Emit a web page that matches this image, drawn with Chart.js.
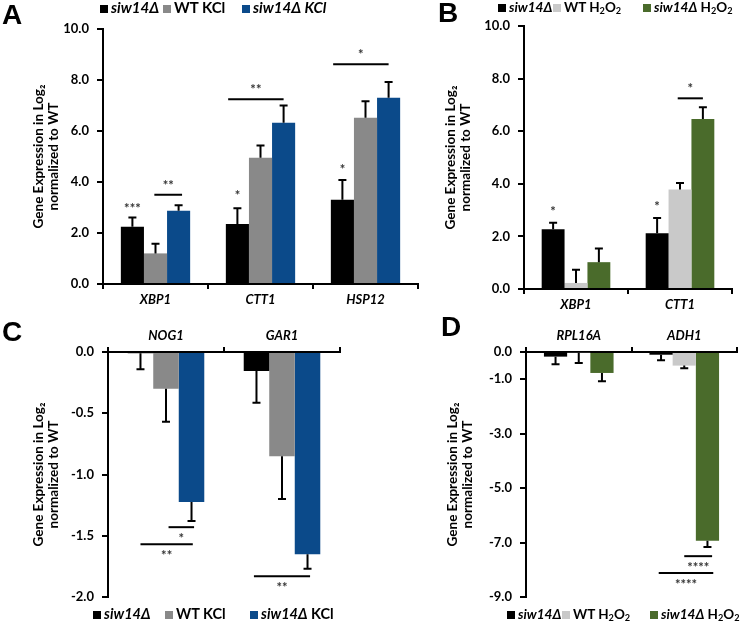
<!DOCTYPE html>
<html>
<head>
<meta charset="utf-8">
<script src="https://cdn.jsdelivr.net/npm/chart.js@4.4.1/dist/chart.umd.min.js"></script>
<style>
  body { margin: 0; background: #fff; }
  #page { position: relative; width: 745px; height: 624px; overflow: hidden; background: #fff; font-family: Lato, 'Open Sans', sans-serif; }
  canvas { position: absolute; }
  .letter { position: absolute; font: bold 28px 'Liberation Sans', Arial, sans-serif; line-height: 1; color: #000; }
  .legend { position: absolute; height: 18px; font-family: Lato, sans-serif; font-weight: bold; line-height: 1; color: #000; white-space: nowrap; }
  .legend .item { position: absolute; top: 0; }
  .legend .sw { display: inline-block; width: 8px; height: 8px; margin-right: 3px; }
  .legend i { font-style: italic; }
  .legend sub { font-size: 0.68em; vertical-align: -2px; }
</style>
</head>
<body>
<div id="page">
  <canvas id="chartA" width="430" height="310" style="left:0;top:0"></canvas>
  <canvas id="chartB" width="375" height="310" style="left:370px;top:0"></canvas>
  <canvas id="chartC" width="370" height="314" style="left:0;top:310px"></canvas>
  <canvas id="chartD" width="375" height="314" style="left:370px;top:310px"></canvas>

  <div class="letter" style="left:2px;top:1px">A</div>
  <div class="letter" style="left:438px;top:-1px">B</div>
  <div class="letter" style="left:2px;top:318px">C</div>
  <div class="letter" style="left:441px;top:313px">D</div>

  <div class="legend" id="legendA" style="left:100px;top:0;font-size:15px"></div>
  <div class="legend" id="legendB" style="left:498px;top:1px;font-size:13.5px"></div>
  <div class="legend" id="legendC" style="left:93px;top:607px;font-size:14.5px"></div>
  <div class="legend" id="legendD" style="left:507px;top:608px;font-size:13.5px"></div>
</div>
<script>
// categories
const kclUpGenes = ['XBP1', 'CTT1', 'HSP12'];
const h2o2UpGenes = ['XBP1', 'CTT1'];
const kclDownGenes = ['NOG1', 'GAR1'];
const h2o2DownGenes = ['RPL16A', 'ADH1'];

// series names
const kclSeries = ['siw14Δ', 'WT KCl', 'siw14Δ KCl'];
const h2o2Series = ['siw14Δ', 'WT H₂O₂', 'siw14Δ H₂O₂'];

// A - KCl, induced genes
const aSiw14 = [2.25, 2.35, 3.3];
const aWtKcl = [1.2, 4.95, 6.52];
const aSiw14Kcl = [2.87, 6.32, 7.3];
const aSiw14Err = [0.36, 0.62, 0.78];
const aWtKclErr = [0.38, 0.48, 0.65];
const aSiw14KclErr = [0.22, 0.68, 0.62];
const aTicks = [0, 2, 4, 6, 8, 10];

// B - H2O2, induced genes
const bSiw14 = [2.27, 2.12];
const bWtH2o2 = [0.23, 3.78];
const bSiw14H2o2 = [1.02, 6.46];
const bSiw14Err = [0.25, 0.58];
const bWtH2o2Err = [0.5, 0.25];
const bSiw14H2o2Err = [0.52, 0.45];
const bTicks = [0, 2, 4, 6, 8, 10];

// C - KCl, repressed genes
const cSiw14 = [-0.01, -0.155];
const cWtKcl = [-0.3, -0.85];
const cSiw14Kcl = [-1.225, -1.65];
const cSiw14Err = [0.13, 0.26];
const cWtKclErr = [0.27, 0.35];
const cSiw14KclErr = [0.155, 0.12];
const cTicks = [0, -0.5, -1, -1.5, -2];

// D - H2O2, repressed genes
const dSiw14 = [-0.17, -0.1];
const dWtH2o2 = [-0.03, -0.5];
const dSiw14H2o2 = [-0.77, -6.93];
const dSiw14Err = [0.28, 0.2];
const dWtH2o2Err = [0.37, 0.1];
const dSiw14H2o2Err = [0.3, 0.23];
const dTicks = [0, -1, -3, -5, -7, -9];

// significance marks (slot = position inside the bar group, in bar widths)
const aStars = [
  { cat: 0, slot: 0.5, y: 3.05, text: '***' },
  { cat: 1, slot: 0.5, y: 3.55, text: '*' },
  { cat: 2, slot: 0.5, y: 4.6, text: '*' }
];
const aLines = [
  { cat: 0, from: 1.45, to: 2.65, y: 3.5, text: '**' },
  { cat: 1, from: 0.1, to: 2.5, y: 7.25, text: '**' },
  { cat: 2, from: 0.1, to: 2.5, y: 8.62, text: '*' }
];
const bStars = [
  { cat: 0, slot: 0.5, y: 3.05, text: '*' },
  { cat: 1, slot: 0.5, y: 3.25, text: '*' }
];
const bLines = [
  { cat: 1, from: 1.4, to: 2.5, y: 7.25, text: '*' }
];
const cLines = [
  { cat: 0, from: 1.6, to: 2.6, y: -1.43, text: '*' },
  { cat: 0, from: 0.5, to: 2.55, y: -1.57, text: '**' },
  { cat: 1, from: 0.4, to: 2.6, y: -1.83, text: '**' }
];
const dLines = [
  { cat: 1, from: 1.5, to: 2.7, y: -7.5, text: '****' },
  { cat: 1, from: 0.4, to: 2.75, y: -8.12, text: '****' }
];

const kclColors = ['#000000', '#898989', '#0b4a8a'];
const h2o2Colors = ['#000000', '#c9c9c9', '#4a6b2b'];
const FONT = 'Lato, sans-serif';

// one-sided error bars, drawn away from zero
const errorBars = {
  id: 'errorBars',
  afterDatasetsDraw(chart) {
    const { ctx } = chart;
    const y = chart.scales.y;
    chart.data.datasets.forEach((ds, i) => {
      chart.getDatasetMeta(i).data.forEach((bar, j) => {
        const v = ds.data[j];
        const end = v < 0 ? v - ds.errors[j] : v + ds.errors[j];
        const y0 = y.getPixelForValue(v), y1 = y.getPixelForValue(end);
        ctx.save();
        ctx.strokeStyle = '#000';
        ctx.lineWidth = 2;
        ctx.beginPath();
        ctx.moveTo(bar.x, y0);
        ctx.lineTo(bar.x, y1);
        ctx.moveTo(bar.x - 4, y1);
        ctx.lineTo(bar.x + 4, y1);
        ctx.stroke();
        ctx.restore();
      });
    });
  }
};

// significance lines and stars
const sigMarks = {
  id: 'sig',
  afterDatasetsDraw(chart, args, opts) {
    const { ctx } = chart;
    const y = chart.scales.y;
    const slotX = (cat, s) => {
      const b = chart.getDatasetMeta(0).data[cat];
      return b.x - b.width / 2 + s * b.width;
    };
    const star = (x, yc, text) => {
      ctx.fillStyle = '#333';
      ctx.font = 'bold 13px ' + FONT;
      ctx.textAlign = 'center';
      ctx.textBaseline = 'alphabetic';
      ctx.fillText(text, x, yc + 7);
    };
    ctx.save();
    (opts.stars || []).forEach(s => star(slotX(s.cat, s.slot), y.getPixelForValue(s.y), s.text));
    (opts.lines || []).forEach(l => {
      const x1 = slotX(l.cat, l.from), x2 = slotX(l.cat, l.to);
      const yp = y.getPixelForValue(l.y);
      ctx.strokeStyle = '#000';
      ctx.lineWidth = 2;
      ctx.beginPath();
      ctx.moveTo(x1, yp);
      ctx.lineTo(x2, yp);
      ctx.stroke();
      star((x1 + x2) / 2, l.y < 0 ? yp + 9 : yp - 12, l.text);
    });
    ctx.restore();
  }
};

function buildChart(id, o) {
  const last = o.ticks[o.ticks.length - 1];
  return new Chart(document.getElementById(id), {
    type: 'bar',
    data: {
      labels: o.labels,
      datasets: o.series.map((name, i) => ({
        label: name,
        data: o.values[i],
        errors: o.errors[i],
        backgroundColor: o.colors[i],
        borderWidth: 0,
        categoryPercentage: 0.66,
        barPercentage: 1
      }))
    },
    options: {
      responsive: false,
      animation: false,
      layout: { padding: o.padding },
      plugins: {
        legend: { display: false },
        tooltip: { enabled: false },
        sig: { lines: o.lines, stars: o.stars }
      },
      scales: {
        x: {
          position: o.xPos,
          grid: { drawOnChartArea: false, tickLength: 5, color: '#000', lineWidth: 2 },
          border: { color: '#000', width: 2 },
          ticks: { color: '#000', padding: 3, font: { family: FONT, size: 13, weight: 'bold', style: 'italic' } },
          afterFit: s => { s.height = o.xHeight; }
        },
        y: {
          min: Math.min(o.ticks[0], last),
          max: Math.max(o.ticks[0], last),
          afterBuildTicks: s => { s.ticks = o.ticks.map(v => ({ value: v })); },
          grid: { drawOnChartArea: false, tickLength: 6, color: '#000', lineWidth: 2 },
          border: { color: '#000', width: 2 },
          ticks: { color: '#000', padding: 8, callback: v => v.toFixed(1), font: { family: FONT, size: 13, weight: 'bold' } },
          title: {
            display: true,
            text: ['Gene Expression in Log₂', 'normalized to WT'],
            color: '#000',
            padding: { top: 3, bottom: 0 },
            font: { family: FONT, size: 13.5, weight: 'bold', lineHeight: 1.1 }
          },
          afterFit: s => { s.width = o.yWidth; }
        }
      }
    },
    plugins: [errorBars, sigMarks]
  });
}

buildChart('chartA', {
  labels: kclUpGenes, series: kclSeries, colors: kclColors,
  values: [aSiw14, aWtKcl, aSiw14Kcl], errors: [aSiw14Err, aWtKclErr, aSiw14KclErr],
  ticks: aTicks, stars: aStars, lines: aLines,
  xPos: 'bottom', xHeight: 26, yWidth: 75,
  padding: { left: 28, right: 12, top: 29, bottom: 0 }
});
buildChart('chartB', {
  labels: h2o2UpGenes, series: h2o2Series, colors: h2o2Colors,
  values: [bSiw14, bWtH2o2, bSiw14H2o2], errors: [bSiw14Err, bWtH2o2Err, bSiw14H2o2Err],
  ticks: bTicks, stars: bStars, lines: bLines,
  xPos: 'bottom', xHeight: 21, yWidth: 84,
  padding: { left: 70, right: 13, top: 26, bottom: 0 }
});
buildChart('chartC', {
  labels: kclDownGenes, series: kclSeries, colors: kclColors,
  values: [cSiw14, cWtKcl, cSiw14Kcl], errors: [cSiw14Err, cWtKclErr, cSiw14KclErr],
  ticks: cTicks, stars: [], lines: cLines,
  xPos: 'top', xHeight: 26, yWidth: 80,
  padding: { left: 28, right: 30, top: 16, bottom: 27 }
});
buildChart('chartD', {
  labels: h2o2DownGenes, series: h2o2Series, colors: h2o2Colors,
  values: [dSiw14, dWtH2o2, dSiw14H2o2], errors: [dSiw14Err, dWtH2o2Err, dSiw14H2o2Err],
  ticks: dTicks, stars: [], lines: dLines,
  xPos: 'top', xHeight: 26, yWidth: 84,
  padding: { left: 72, right: 8, top: 16, bottom: 27 }
});

// legends (html, so siw14Δ can be italic and H₂O₂ keeps its subscripts)
function buildLegend(id, names, colors, offsets, italicMutant) {
  const fmt = name => {
    if (italicMutant && name.includes('siw14Δ')) return '<i>' + name + '</i>';
    return name.replace('siw14Δ', '<i>siw14Δ</i>').replace(/₂/g, '<sub>2</sub>');
  };
  document.getElementById(id).innerHTML = names.map((n, i) =>
    `<span class="item" style="left:${offsets[i]}px"><span class="sw" style="background:${colors[i]}"></span>${fmt(n)}</span>`
  ).join('');
}
buildLegend('legendA', kclSeries, kclColors, [0, 63, 142], true);
buildLegend('legendB', h2o2Series, h2o2Colors, [0, 55, 145], false);
buildLegend('legendC', kclSeries, kclColors, [0, 72, 157], false);
buildLegend('legendD', h2o2Series, h2o2Colors, [0, 55, 143], false);
</script>
</body>
</html>
